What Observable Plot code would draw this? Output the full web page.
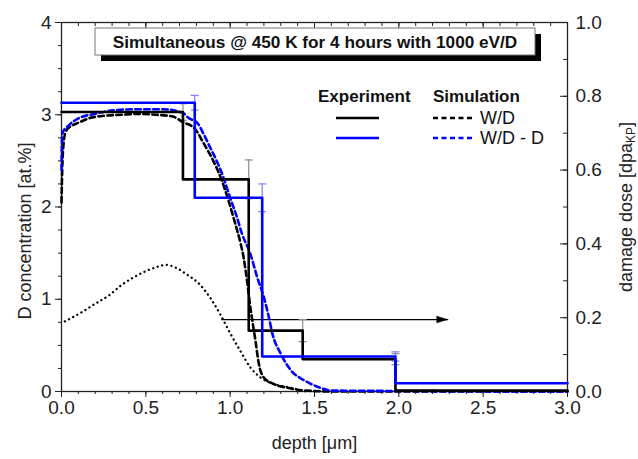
<!DOCTYPE html>
<html>
<head>
<meta charset="utf-8">
<script src="https://cdn.jsdelivr.net/npm/d3@7"></script>
<script src="https://cdn.jsdelivr.net/npm/@observablehq/plot@0.6"></script>
<style>
  html, body { margin: 0; padding: 0; background: #fff; }
  #chart { width: 638px; height: 459px; }
</style>
</head>
<body>
<div id="chart"></div>
<script>
// ---- Experiment (step profiles) ----
const expBlackDepth = [0, 0.72, 1.11, 1.43, 1.98, 3.0];
const expBlackConc  = [3.03, 2.30, 0.66, 0.35, 0.01, 0.01];
const expBlueDepth  = [0, 0.79, 1.19, 1.98, 3.0];
const expBlueConc   = [3.13, 2.10, 0.38, 0.09, 0.09];

// ---- Experiment error bars ----
const errBlackDepth = [0.72, 1.11, 1.43, 1.98];
const errBlackConc  = [3.03, 2.30, 0.66, 0.35];
const errBlackSize  = [0.09, 0.21, 0.12, 0.06];
const errBlueDepth  = [0.79, 1.19, 1.98];
const errBlueConc   = [3.13, 2.10, 0.38];
const errBlueSize   = [0.08, 0.15, 0.05];

// ---- Simulation W/D (black dashed) ----
const simWDDepth = [0, 0.005, 0.012, 0.024, 0.05, 0.083, 0.12, 0.16, 0.26, 0.36, 0.46, 0.56, 0.66, 0.72, 0.79, 0.84, 0.90, 0.95, 0.99, 1.03, 1.06, 1.08, 1.10, 1.12, 1.15, 1.17, 1.20, 1.26, 1.34, 1.45, 1.6, 3.0];
const simWDConc  = [2.05, 2.45, 2.68, 2.81, 2.87, 2.90, 2.93, 2.96, 2.99, 3.00, 3.01, 3.00, 2.98, 2.92, 2.85, 2.70, 2.50, 2.29, 2.07, 1.82, 1.62, 1.45, 1.20, 0.91, 0.55, 0.30, 0.15, 0.08, 0.04, 0.01, 0.0, 0.0];

// ---- Simulation W/D - D (blue dashed) ----
const simWDDDepth = [0, 0.002, 0.005, 0.04, 0.10, 0.20, 0.32, 0.46, 0.60, 0.72, 0.75, 0.81, 0.84, 0.88, 0.92, 0.96, 1.00, 1.04, 1.07, 1.12, 1.16, 1.20, 1.23, 1.25, 1.30, 1.36, 1.44, 1.52, 1.6, 3.0];
const simWDDConc  = [2.40, 2.65, 2.80, 2.88, 2.96, 3.01, 3.05, 3.06, 3.06, 3.02, 2.97, 2.90, 2.80, 2.65, 2.50, 2.32, 2.10, 1.89, 1.71, 1.49, 1.24, 1.02, 0.80, 0.63, 0.41, 0.23, 0.12, 0.05, 0.01, 0.0];

// ---- Damage dose (dotted, right axis, dpa) ----
const damageDepth = [0.02, 0.12, 0.20, 0.28, 0.36, 0.45, 0.55, 0.62, 0.68, 0.75, 0.82, 0.88, 0.94, 1.00, 1.06, 1.12, 1.18, 1.26, 1.36, 1.45];
const damageDpa   = [0.19, 0.215, 0.238, 0.26, 0.29, 0.315, 0.335, 0.343, 0.335, 0.315, 0.29, 0.255, 0.21, 0.158, 0.11, 0.065, 0.038, 0.02, 0.01, 0.0];

// ---- Arrow pointing to the right axis ----
const arrowDepth = [0.95, 2.29];
const arrowDpa = 0.195;

// ---- Ticks ----
const xMajor = [0, 0.5, 1.0, 1.5, 2.0, 2.5, 3.0];
const xMinor = d3.range(0, 31).map(i => i / 10);
const yMajor = [0, 1, 2, 3, 4];
const yMinor = d3.range(0, 17).map(i => i / 4);
const rMajor = [0, 0.2, 0.4, 0.6, 0.8, 1.0];
const rMinor = d3.range(0, 11).map(i => i / 10);
const dpaMax = 1.0, concMax = 4; // right axis maps 0..1 dpa onto 0..4 at.%

// labels
const titleText = "Simultaneous @ 450 K for 4 hours with 1000 eV/D";
const xLabel = "depth [μm]";
const yLabel = "D concentration [at.%]";

const toRows = (xs, ys) => xs.map((x, i) => ({depth: x, conc: ys[i]}));
const blackStep = toRows(expBlackDepth, expBlackConc);
const blueStep = toRows(expBlueDepth, expBlueConc);
const simWD = toRows(simWDDepth, simWDConc);
const simWDD = toRows(simWDDDepth, simWDDConc);
const damage = damageDepth.map((x, i) => ({depth: x, dpa: damageDpa[i]}));
const errBlack = errBlackDepth.map((x, i) => ({depth: x, conc: errBlackConc[i], err: errBlackSize[i]}));
const errBlue = errBlueDepth.map((x, i) => ({depth: x, conc: errBlueConc[i], err: errBlueSize[i]}));
const caps = rows => rows.flatMap(d => [{depth: d.depth, conc: d.conc + d.err}, {depth: d.depth, conc: d.conc - d.err}]);
const dpaToY = v => v / dpaMax * concMax;

const capSymbol = {draw(ctx, size) { const r = Math.sqrt(size / Math.PI); ctx.moveTo(-r, 0); ctx.lineTo(r, 0); }};
const headSymbol = {draw(ctx) { ctx.moveTo(0, 0); ctx.lineTo(-11, -3.3); ctx.lineTo(-11, 3.3); ctx.closePath(); }};

const W = 638, H = 459, mL = 61, mR = 71, mT = 22, mB = 68;
const fW = W - mL - mR, fH = H - mT - mB;
const BLUE = "#0000ff";
const DASH = "5.5,3.5";

const chart = Plot.plot({
  width: W, height: H,
  marginLeft: mL, marginRight: mR, marginTop: mT, marginBottom: mB,
  x: {domain: [0, 3], label: null},
  y: {domain: [0, 4], label: null},
  style: {fontFamily: '"Liberation Sans", Arial, sans-serif', fontSize: "19px", background: "#fff", color: "#222"},
  marks: [
    // bottom axis
    Plot.axisX({ticks: xMajor, tickSize: 6, tickPadding: 3, tickFormat: d3.format(".1f"), label: null, stroke: "#222"}),
    Plot.axisX({ticks: xMinor, tickSize: 3, tickFormat: () => "", label: null, stroke: "#222"}),
    // left axis
    Plot.axisY({ticks: yMajor, tickSize: 6, tickPadding: 4, tickFormat: d => String(d), label: null, stroke: "#222"}),
    Plot.axisY({ticks: yMinor, tickSize: 3, tickFormat: () => "", label: null, stroke: "#222"}),
    // right axis (damage dose)
    Plot.axisY({anchor: "right", ticks: rMajor.map(dpaToY), tickSize: 0, tickPadding: 8, tickFormat: d => (d / concMax * dpaMax).toFixed(1), label: null}),
    Plot.tickY(rMajor, {y: dpaToY, insetLeft: fW - 7, stroke: "#222"}),
    Plot.tickY(rMinor, {y: dpaToY, insetLeft: fW - 4, stroke: "#222"}),
    // top mirrored ticks
    Plot.tickX(xMajor, {x: d => d, insetBottom: fH - 7, stroke: "#222"}),
    Plot.tickX(xMinor, {x: d => d, insetBottom: fH - 4, stroke: "#222"}),
    Plot.frame({stroke: "#222", strokeWidth: 1.3}),

    // damage dose (dotted)
    Plot.line(damage, {x: "depth", y: d => dpaToY(d.dpa), stroke: "black", strokeWidth: 2.3, strokeDasharray: "0.1,4.6", strokeLinecap: "round", curve: "monotone-x"}),
    // arrow to right axis
    Plot.line(arrowDepth.map(x => ({depth: x, dpa: arrowDpa})), {x: "depth", y: d => dpaToY(d.dpa), stroke: "black", strokeWidth: 1.2}),
    Plot.dot([{depth: arrowDepth[1], dpa: arrowDpa}], {x: "depth", y: d => dpaToY(d.dpa), symbol: headSymbol, fill: "black", stroke: "black", strokeWidth: 0.5}),

    // error bars
    Plot.ruleX(errBlack, {x: "depth", y1: d => d.conc - d.err, y2: d => d.conc + d.err, stroke: "#8c8c8c", strokeWidth: 1.2}),
    Plot.dot(caps(errBlack), {x: "depth", y: "conc", symbol: capSymbol, r: 4, stroke: "#8c8c8c", strokeWidth: 1.2}),
    Plot.ruleX(errBlue, {x: "depth", y1: d => d.conc - d.err, y2: d => d.conc + d.err, stroke: "#8080ff", strokeWidth: 1.2}),
    Plot.dot(caps(errBlue), {x: "depth", y: "conc", symbol: capSymbol, r: 4, stroke: "#8080ff", strokeWidth: 1.2}),

    // simulations (dashed)
    Plot.line(simWD, {x: "depth", y: "conc", stroke: "black", strokeWidth: 2.6, strokeDasharray: DASH, curve: "monotone-x"}),
    Plot.line(simWDD, {x: "depth", y: "conc", stroke: BLUE, strokeWidth: 2.6, strokeDasharray: DASH, curve: "monotone-x"}),

    // experiments (steps)
    Plot.line(blackStep, {x: "depth", y: "conc", curve: "step-after", stroke: "black", strokeWidth: 2.6}),
    Plot.line(blueStep, {x: "depth", y: "conc", curve: "step-after", stroke: BLUE, strokeWidth: 2.6}),

    // axis titles
    Plot.text([xLabel], {frameAnchor: "bottom", dy: 52, textAnchor: "middle", lineAnchor: "middle", fontSize: 18, fill: "#222"}),
    Plot.text([yLabel], {frameAnchor: "left", dx: -36, dy: 24, rotate: -90, textAnchor: "middle", lineAnchor: "middle", fontSize: 18, fill: "#222"})
  ]
});

document.getElementById("chart").appendChild(chart);

const svg = d3.select(chart);
const ff = '"Liberation Sans", Arial, sans-serif';

// right axis title with subscript
const rt = svg.append("text")
  .attr("transform", "translate(626,207) rotate(-90)")
  .attr("text-anchor", "middle").attr("dominant-baseline", "central")
  .attr("font-family", ff).attr("font-size", 18).attr("fill", "#222");
rt.append("tspan").text("damage dose [dpa");
rt.append("tspan").attr("font-size", 12).attr("dy", 5).text("KP");
rt.append("tspan").attr("dy", -5).text("]");

// title box with drop shadow
svg.append("rect").attr("x", 101).attr("y", 34).attr("width", 440).attr("height", 27).attr("fill", "#000");
svg.append("rect").attr("x", 95).attr("y", 28).attr("width", 440).attr("height", 27).attr("fill", "#fff").attr("stroke", "#777").attr("stroke-width", 1);
svg.append("text").attr("x", 315).attr("y", 42).attr("text-anchor", "middle").attr("dominant-baseline", "central")
  .attr("font-family", ff).attr("font-weight", "bold").attr("font-size", 17.2).attr("fill", "#111").text(titleText);

// legend
const lg = svg.append("g").attr("font-family", ff).attr("fill", "#111").attr("text-anchor", "start");
lg.append("text").attr("x", 318).attr("y", 102).attr("font-weight", "bold").attr("font-size", 17).text("Experiment");
lg.append("text").attr("x", 433).attr("y", 102).attr("font-weight", "bold").attr("font-size", 17).text("Simulation");
const legendRows = [
  {y: 118, color: "black", label: "W/D"},
  {y: 138, color: BLUE, label: "W/D - D"}
];
legendRows.forEach(r => {
  lg.append("line").attr("x1", 336).attr("x2", 379).attr("y1", r.y).attr("y2", r.y).attr("stroke", r.color).attr("stroke-width", 2.6);
  lg.append("line").attr("x1", 433).attr("x2", 472).attr("y1", r.y).attr("y2", r.y).attr("stroke", r.color).attr("stroke-width", 2.6).attr("stroke-dasharray", "5,3.5");
  lg.append("text").attr("x", 480).attr("y", r.y).attr("dominant-baseline", "central").attr("font-size", 18).text(r.label);
});
</script>
</body>
</html>
